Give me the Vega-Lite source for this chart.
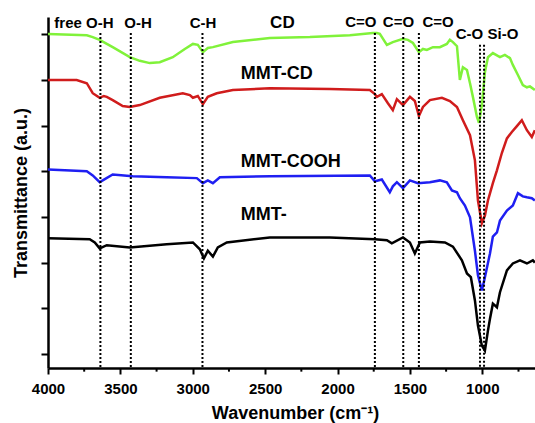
{
  "$schema": "https://vega.github.io/schema/vega-lite/v6.json",
  "width": 487,
  "height": 351,
  "autosize": {"type": "none"},
  "padding": {"left": 48, "top": 17, "right": 0, "bottom": 55},
  "background": "white",
  "config": {
    "view": {"stroke": null},
    "font": "Liberation Sans",
    "axis": {"grid": false, "domainColor": "black", "tickColor": "black", "labelColor": "black", "titleColor": "black"}
  },
  "datasets": {
    "spectra": [
      {"s": "CD", "w": 4000, "v": 8.01}, {"s": "CD", "w": 3732, "v": 7.98}, {"s": "CD", "w": 3691, "v": 7.94}, {"s": "CD", "w": 3643, "v": 7.88},
      {"s": "CD", "w": 3553, "v": 7.72}, {"s": "CD", "w": 3435, "v": 7.50}, {"s": "CD", "w": 3366, "v": 7.42}, {"s": "CD", "w": 3297, "v": 7.37},
      {"s": "CD", "w": 3228, "v": 7.39}, {"s": "CD", "w": 3138, "v": 7.50}, {"s": "CD", "w": 3055, "v": 7.68}, {"s": "CD", "w": 2999, "v": 7.79},
      {"s": "CD", "w": 2965, "v": 7.77}, {"s": "CD", "w": 2930, "v": 7.61}, {"s": "CD", "w": 2896, "v": 7.70}, {"s": "CD", "w": 2861, "v": 7.72},
      {"s": "CD", "w": 2723, "v": 7.83}, {"s": "CD", "w": 2468, "v": 7.92}, {"s": "CD", "w": 2191, "v": 7.94}, {"s": "CD", "w": 1915, "v": 7.98},
      {"s": "CD", "w": 1756, "v": 8.03}, {"s": "CD", "w": 1728, "v": 8.03}, {"s": "CD", "w": 1708, "v": 8.01}, {"s": "CD", "w": 1659, "v": 7.77},
      {"s": "CD", "w": 1618, "v": 7.83}, {"s": "CD", "w": 1548, "v": 7.90}, {"s": "CD", "w": 1514, "v": 7.88}, {"s": "CD", "w": 1479, "v": 7.81},
      {"s": "CD", "w": 1438, "v": 7.61}, {"s": "CD", "w": 1410, "v": 7.68}, {"s": "CD", "w": 1383, "v": 7.66}, {"s": "CD", "w": 1341, "v": 7.72},
      {"s": "CD", "w": 1293, "v": 7.72}, {"s": "CD", "w": 1245, "v": 7.79}, {"s": "CD", "w": 1224, "v": 7.88}, {"s": "CD", "w": 1203, "v": 7.83},
      {"s": "CD", "w": 1175, "v": 7.74}, {"s": "CD", "w": 1155, "v": 7.00}, {"s": "CD", "w": 1134, "v": 7.28}, {"s": "CD", "w": 1106, "v": 7.22},
      {"s": "CD", "w": 1085, "v": 6.93}, {"s": "CD", "w": 1065, "v": 6.63}, {"s": "CD", "w": 1037, "v": 6.19}, {"s": "CD", "w": 1023, "v": 6.06},
      {"s": "CD", "w": 1003, "v": 6.45}, {"s": "CD", "w": 982, "v": 7.17}, {"s": "CD", "w": 961, "v": 7.50}, {"s": "CD", "w": 927, "v": 7.59},
      {"s": "CD", "w": 878, "v": 7.50}, {"s": "CD", "w": 844, "v": 7.55}, {"s": "CD", "w": 809, "v": 7.48}, {"s": "CD", "w": 789, "v": 7.33},
      {"s": "CD", "w": 754, "v": 7.11}, {"s": "CD", "w": 720, "v": 6.89}, {"s": "CD", "w": 692, "v": 6.84}, {"s": "CD", "w": 671, "v": 6.86},
      {"s": "CD", "w": 637, "v": 6.78},

      {"s": "MMT-CD", "w": 4000, "v": 7.00}, {"s": "MMT-CD", "w": 3802, "v": 7.00}, {"s": "MMT-CD", "w": 3732, "v": 6.93}, {"s": "MMT-CD", "w": 3691, "v": 6.71},
      {"s": "MMT-CD", "w": 3643, "v": 6.61}, {"s": "MMT-CD", "w": 3615, "v": 6.65}, {"s": "MMT-CD", "w": 3594, "v": 6.63}, {"s": "MMT-CD", "w": 3553, "v": 6.56},
      {"s": "MMT-CD", "w": 3484, "v": 6.43}, {"s": "MMT-CD", "w": 3435, "v": 6.41}, {"s": "MMT-CD", "w": 3366, "v": 6.45}, {"s": "MMT-CD", "w": 3228, "v": 6.61},
      {"s": "MMT-CD", "w": 3069, "v": 6.71}, {"s": "MMT-CD", "w": 3020, "v": 6.67}, {"s": "MMT-CD", "w": 2999, "v": 6.61}, {"s": "MMT-CD", "w": 2965, "v": 6.65},
      {"s": "MMT-CD", "w": 2930, "v": 6.47}, {"s": "MMT-CD", "w": 2896, "v": 6.63}, {"s": "MMT-CD", "w": 2834, "v": 6.71}, {"s": "MMT-CD", "w": 2723, "v": 6.78},
      {"s": "MMT-CD", "w": 2468, "v": 6.82}, {"s": "MMT-CD", "w": 2053, "v": 6.80}, {"s": "MMT-CD", "w": 1777, "v": 6.78}, {"s": "MMT-CD", "w": 1742, "v": 6.69},
      {"s": "MMT-CD", "w": 1728, "v": 6.63}, {"s": "MMT-CD", "w": 1694, "v": 6.69}, {"s": "MMT-CD", "w": 1652, "v": 6.49}, {"s": "MMT-CD", "w": 1618, "v": 6.34},
      {"s": "MMT-CD", "w": 1590, "v": 6.58}, {"s": "MMT-CD", "w": 1548, "v": 6.45}, {"s": "MMT-CD", "w": 1500, "v": 6.63}, {"s": "MMT-CD", "w": 1466, "v": 6.54},
      {"s": "MMT-CD", "w": 1438, "v": 6.21}, {"s": "MMT-CD", "w": 1410, "v": 6.41}, {"s": "MMT-CD", "w": 1362, "v": 6.56}, {"s": "MMT-CD", "w": 1279, "v": 6.61},
      {"s": "MMT-CD", "w": 1224, "v": 6.54}, {"s": "MMT-CD", "w": 1175, "v": 6.41}, {"s": "MMT-CD", "w": 1134, "v": 6.12}, {"s": "MMT-CD", "w": 1085, "v": 5.79},
      {"s": "MMT-CD", "w": 1051, "v": 5.24}, {"s": "MMT-CD", "w": 1030, "v": 4.36}, {"s": "MMT-CD", "w": 1003, "v": 3.86}, {"s": "MMT-CD", "w": 982, "v": 4.03},
      {"s": "MMT-CD", "w": 961, "v": 4.36}, {"s": "MMT-CD", "w": 927, "v": 4.74}, {"s": "MMT-CD", "w": 899, "v": 5.02}, {"s": "MMT-CD", "w": 865, "v": 5.40},
      {"s": "MMT-CD", "w": 830, "v": 5.72}, {"s": "MMT-CD", "w": 796, "v": 5.86}, {"s": "MMT-CD", "w": 761, "v": 5.99}, {"s": "MMT-CD", "w": 727, "v": 6.12},
      {"s": "MMT-CD", "w": 692, "v": 5.90}, {"s": "MMT-CD", "w": 658, "v": 5.75}, {"s": "MMT-CD", "w": 637, "v": 5.90},

      {"s": "MMT-COOH", "w": 4000, "v": 5.04}, {"s": "MMT-COOH", "w": 3732, "v": 5.00}, {"s": "MMT-COOH", "w": 3691, "v": 4.91}, {"s": "MMT-COOH", "w": 3643, "v": 4.76},
      {"s": "MMT-COOH", "w": 3622, "v": 4.80}, {"s": "MMT-COOH", "w": 3553, "v": 4.93}, {"s": "MMT-COOH", "w": 3415, "v": 4.89}, {"s": "MMT-COOH", "w": 3180, "v": 4.87},
      {"s": "MMT-COOH", "w": 2972, "v": 4.85}, {"s": "MMT-COOH", "w": 2930, "v": 4.74}, {"s": "MMT-COOH", "w": 2896, "v": 4.80}, {"s": "MMT-COOH", "w": 2861, "v": 4.74},
      {"s": "MMT-COOH", "w": 2813, "v": 4.87}, {"s": "MMT-COOH", "w": 2468, "v": 4.89}, {"s": "MMT-COOH", "w": 1777, "v": 4.91}, {"s": "MMT-COOH", "w": 1742, "v": 4.78},
      {"s": "MMT-COOH", "w": 1694, "v": 4.82}, {"s": "MMT-COOH", "w": 1639, "v": 4.54}, {"s": "MMT-COOH", "w": 1618, "v": 4.67}, {"s": "MMT-COOH", "w": 1590, "v": 4.76},
      {"s": "MMT-COOH", "w": 1548, "v": 4.63}, {"s": "MMT-COOH", "w": 1500, "v": 4.80}, {"s": "MMT-COOH", "w": 1445, "v": 4.74}, {"s": "MMT-COOH", "w": 1362, "v": 4.76},
      {"s": "MMT-COOH", "w": 1293, "v": 4.80}, {"s": "MMT-COOH", "w": 1245, "v": 4.76}, {"s": "MMT-COOH", "w": 1210, "v": 4.58}, {"s": "MMT-COOH", "w": 1175, "v": 4.54},
      {"s": "MMT-COOH", "w": 1155, "v": 4.41}, {"s": "MMT-COOH", "w": 1120, "v": 4.25}, {"s": "MMT-COOH", "w": 1085, "v": 3.99}, {"s": "MMT-COOH", "w": 1051, "v": 3.26},
      {"s": "MMT-COOH", "w": 1030, "v": 2.72}, {"s": "MMT-COOH", "w": 1003, "v": 2.39}, {"s": "MMT-COOH", "w": 982, "v": 2.68}, {"s": "MMT-COOH", "w": 947, "v": 3.20},
      {"s": "MMT-COOH", "w": 927, "v": 3.57}, {"s": "MMT-COOH", "w": 899, "v": 3.66}, {"s": "MMT-COOH", "w": 878, "v": 3.92}, {"s": "MMT-COOH", "w": 830, "v": 4.14},
      {"s": "MMT-COOH", "w": 789, "v": 4.25}, {"s": "MMT-COOH", "w": 754, "v": 4.52}, {"s": "MMT-COOH", "w": 720, "v": 4.45}, {"s": "MMT-COOH", "w": 692, "v": 4.43},
      {"s": "MMT-COOH", "w": 658, "v": 4.41}, {"s": "MMT-COOH", "w": 637, "v": 4.36},

      {"s": "MMT-", "w": 4000, "v": 3.53}, {"s": "MMT-", "w": 3712, "v": 3.51}, {"s": "MMT-", "w": 3677, "v": 3.44}, {"s": "MMT-", "w": 3643, "v": 3.31},
      {"s": "MMT-", "w": 3594, "v": 3.38}, {"s": "MMT-", "w": 3435, "v": 3.33}, {"s": "MMT-", "w": 3180, "v": 3.40}, {"s": "MMT-", "w": 2999, "v": 3.44},
      {"s": "MMT-", "w": 2951, "v": 3.29}, {"s": "MMT-", "w": 2923, "v": 3.09}, {"s": "MMT-", "w": 2896, "v": 3.26}, {"s": "MMT-", "w": 2861, "v": 3.13},
      {"s": "MMT-", "w": 2827, "v": 3.33}, {"s": "MMT-", "w": 2765, "v": 3.44}, {"s": "MMT-", "w": 2468, "v": 3.55}, {"s": "MMT-", "w": 2053, "v": 3.55},
      {"s": "MMT-", "w": 1742, "v": 3.51}, {"s": "MMT-", "w": 1659, "v": 3.49}, {"s": "MMT-", "w": 1625, "v": 3.42}, {"s": "MMT-", "w": 1548, "v": 3.55},
      {"s": "MMT-", "w": 1500, "v": 3.44}, {"s": "MMT-", "w": 1466, "v": 3.20}, {"s": "MMT-", "w": 1431, "v": 3.44}, {"s": "MMT-", "w": 1362, "v": 3.46},
      {"s": "MMT-", "w": 1258, "v": 3.44}, {"s": "MMT-", "w": 1203, "v": 3.35}, {"s": "MMT-", "w": 1141, "v": 3.05}, {"s": "MMT-", "w": 1106, "v": 2.76},
      {"s": "MMT-", "w": 1079, "v": 2.68}, {"s": "MMT-", "w": 1051, "v": 2.17}, {"s": "MMT-", "w": 1030, "v": 1.62}, {"s": "MMT-", "w": 1003, "v": 1.18},
      {"s": "MMT-", "w": 982, "v": 1.07}, {"s": "MMT-", "w": 961, "v": 1.51}, {"s": "MMT-", "w": 947, "v": 1.77}, {"s": "MMT-", "w": 927, "v": 2.10},
      {"s": "MMT-", "w": 899, "v": 2.02}, {"s": "MMT-", "w": 878, "v": 2.35}, {"s": "MMT-", "w": 830, "v": 2.83}, {"s": "MMT-", "w": 789, "v": 2.98},
      {"s": "MMT-", "w": 740, "v": 3.05}, {"s": "MMT-", "w": 692, "v": 2.98}, {"s": "MMT-", "w": 651, "v": 3.05}, {"s": "MMT-", "w": 637, "v": 3.00}
    ],
    "bands": [
      {"w": 3638, "top": 8.03}, {"w": 3428, "top": 8.03}, {"w": 2933, "top": 8.03}, {"w": 1742, "top": 8.03},
      {"w": 1546, "top": 8.03}, {"w": 1438, "top": 8.03}, {"w": 1016, "top": 7.77}, {"w": 988, "top": 7.77}
    ],
    "minorTicks": [
      {"w": 3750}, {"w": 3250}, {"w": 2750}, {"w": 2250}, {"w": 1750}, {"w": 1250}, {"w": 750}
    ],
    "bandLabels": [
      {"label": "free O-H", "w": 3752, "v": 8.13}, {"label": "O-H", "w": 3378, "v": 8.13}, {"label": "C-H", "w": 2929, "v": 8.13},
      {"label": "C=O", "w": 1839, "v": 8.15}, {"label": "C=O", "w": 1579, "v": 8.15}, {"label": "C=O", "w": 1306, "v": 8.15},
      {"label": "C-O", "w": 1089, "v": 7.89}, {"label": "Si-O", "w": 857, "v": 7.89}
    ],
    "sampleLabels": [
      {"label": "MMT-CD", "w": 2668, "v": 7.02}, {"label": "MMT-COOH", "w": 2668, "v": 5.09}, {"label": "MMT-", "w": 2668, "v": 3.93}
    ],
    "cdLabel": [{"label": "CD", "w": 2381, "v": 8.14}]
  },
  "layer": [
    {
      "data": {"name": "spectra"},
      "mark": {"type": "line", "strokeWidth": 2.5, "clip": true},
      "encoding": {
        "x": {
          "field": "w", "type": "quantitative", "sort": null,
          "scale": {"domain": [636, 4000], "reverse": true, "nice": false, "zero": false},
          "axis": {
            "orient": "bottom",
            "values": [4000, 3500, 3000, 2500, 2000, 1500, 1000],
            "format": "d",
            "labelFontSize": 15, "labelFontWeight": "bold", "labelFlush": false, "labelOverlap": false,
            "labelPadding": 7, "tickSize": 6, "tickWidth": 2, "domainWidth": 2.5,
            "title": "Wavenumber (cm⁻¹)", "titleFontSize": 18, "titleFontWeight": "bold",
            "titleX": 247, "titleY": 50, "titleBaseline": "alphabetic"
          }
        },
        "y": {
          "field": "v", "type": "quantitative",
          "scale": {"domain": [0.69, 8.38], "nice": false, "zero": false},
          "axis": {
            "values": [1, 2, 3, 4, 5, 6, 7, 8], "labels": false, "tickSize": 7, "tickWidth": 2, "domainWidth": 2.5,
            "title": "Transmittance (a.u.)", "titleFontSize": 18, "titleFontWeight": "bold",
            "titleX": -22, "titleBaseline": "alphabetic"
          }
        },
        "color": {
          "field": "s", "type": "nominal", "legend": null,
          "scale": {"domain": ["CD", "MMT-CD", "MMT-COOH", "MMT-"], "range": ["#80f23a", "#d01c1c", "#1f1ff2", "#000000"]}
        },
        "order": {"field": "w", "type": "quantitative", "sort": "descending"}
      }
    },
    {
      "data": {"name": "minorTicks"},
      "mark": {"type": "rule", "strokeWidth": 2, "color": "black", "clip": false},
      "encoding": {
        "x": {"field": "w", "type": "quantitative"},
        "y": {"datum": 0.69},
        "y2": {"datum": 0.61}
      }
    },
    {
      "data": {"name": "bands"},
      "mark": {"type": "rule", "strokeDash": [2, 2], "strokeWidth": 2, "color": "black"},
      "encoding": {
        "x": {"field": "w", "type": "quantitative"},
        "y": {"field": "top", "type": "quantitative"},
        "y2": {"datum": 0.69}
      }
    },
    {
      "data": {"name": "bandLabels"},
      "mark": {"type": "text", "fontSize": 15, "fontWeight": "bold", "align": "center", "baseline": "alphabetic", "color": "black"},
      "encoding": {
        "x": {"field": "w", "type": "quantitative"},
        "y": {"field": "v", "type": "quantitative"},
        "text": {"field": "label"}
      }
    },
    {
      "data": {"name": "sampleLabels"},
      "mark": {"type": "text", "fontSize": 18, "fontWeight": "bold", "align": "left", "baseline": "alphabetic", "color": "black"},
      "encoding": {
        "x": {"field": "w", "type": "quantitative"},
        "y": {"field": "v", "type": "quantitative"},
        "text": {"field": "label"}
      }
    },
    {
      "data": {"name": "cdLabel"},
      "mark": {"type": "text", "fontSize": 17, "fontWeight": "bold", "align": "center", "baseline": "alphabetic", "color": "black"},
      "encoding": {
        "x": {"field": "w", "type": "quantitative"},
        "y": {"field": "v", "type": "quantitative"},
        "text": {"field": "label"}
      }
    }
  ]
}
